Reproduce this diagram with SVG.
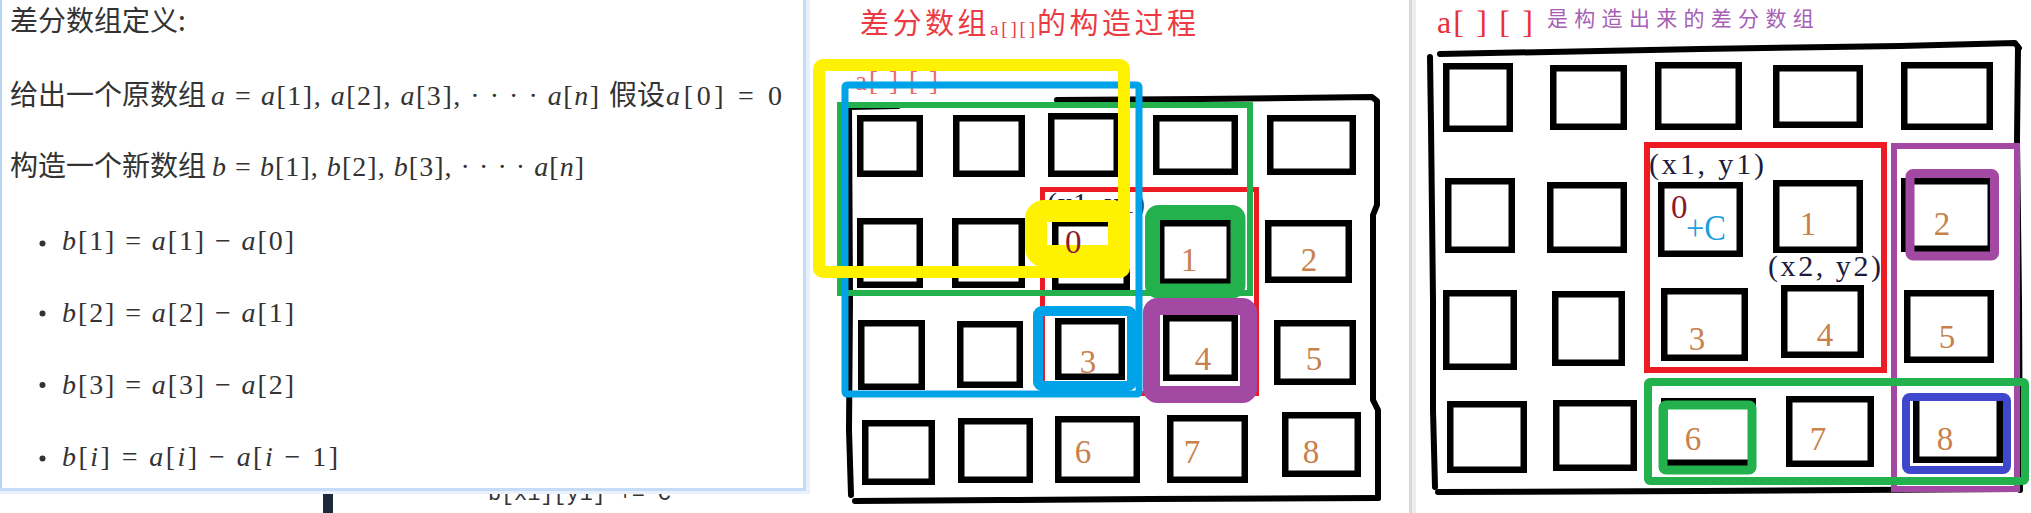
<svg xmlns="http://www.w3.org/2000/svg" width="2031" height="513" viewBox="0 0 2031 513">
<style>
.box{fill:none;stroke:#000;stroke-width:6.5}
.frame{fill:none;stroke:#000;stroke-width:6;stroke-linecap:round;stroke-linejoin:round}
.num{font-family:"Liberation Serif",serif;font-size:33px;fill:#c8814c;text-anchor:middle}
.cjk{font-family:"Noto Sans CJK SC",sans-serif;font-size:28px;fill:#333}
.math{font-family:"Liberation Serif",serif;font-size:28px;fill:#333}
.it{font-style:italic}
.coord{font-family:"Liberation Serif",serif;font-size:30px;fill:#1c1c3c}
.zero{font-family:"Liberation Serif",serif;font-size:33px;fill:#8b1a2b}
</style>
<rect width="2031" height="513" fill="#fff"/>

<!-- left panel -->
<g id="left-panel">
<rect x="323" y="486" width="10" height="27" fill="#1e2a3a"/>
<text x="488" y="500" font-family="Liberation Mono,monospace" font-size="22" fill="#333" textLength="183" lengthAdjust="spacing">b[x1][y1] += C</text>
<rect x="0" y="0" width="810" height="494" fill="#e8f1fc"/>
<rect x="0" y="0" width="806" height="491" fill="#c6dcf6"/>
<rect x="0" y="0" width="803" height="488" fill="#fff"/>
<rect x="0" y="0" width="2" height="488" fill="#b8d4f3"/>
<text class="cjk" x="10" y="31">差分数组定义:</text>
<text class="cjk" x="10" y="105">给出一个原数组</text>
<text class="math" x="211" y="105" textLength="388" lengthAdjust="spacing"><tspan class="it">a</tspan> = <tspan class="it">a</tspan>[1], <tspan class="it">a</tspan>[2], <tspan class="it">a</tspan>[3], · · · · <tspan class="it">a</tspan>[<tspan class="it">n</tspan>]</text>
<text class="cjk" x="609" y="105">假设</text>
<text class="math" x="666" y="105" textLength="116" lengthAdjust="spacing"><tspan class="it">a</tspan>[0] = 0</text>
<text class="cjk" x="10" y="176">构造一个新数组</text>
<text class="math" x="212" y="176" textLength="372" lengthAdjust="spacing"><tspan class="it">b</tspan> = <tspan class="it">b</tspan>[1], <tspan class="it">b</tspan>[2], <tspan class="it">b</tspan>[3], · · · · <tspan class="it">a</tspan>[<tspan class="it">n</tspan>]</text>
<circle cx="42.5" cy="243.5" r="3" fill="#333"/>
<text class="math" x="62" y="250" textLength="232" lengthAdjust="spacing"><tspan class="it">b</tspan>[1] = <tspan class="it">a</tspan>[1] − <tspan class="it">a</tspan>[0]</text>
<circle cx="42.5" cy="313.5" r="3" fill="#333"/>
<text class="math" x="62" y="322" textLength="232" lengthAdjust="spacing"><tspan class="it">b</tspan>[2] = <tspan class="it">a</tspan>[2] − <tspan class="it">a</tspan>[1]</text>
<circle cx="42.5" cy="385" r="3" fill="#333"/>
<text class="math" x="62" y="394" textLength="232" lengthAdjust="spacing"><tspan class="it">b</tspan>[3] = <tspan class="it">a</tspan>[3] − <tspan class="it">a</tspan>[2]</text>
<circle cx="42.5" cy="458.5" r="3" fill="#333"/>
<text class="math" x="62" y="466" textLength="276" lengthAdjust="spacing"><tspan class="it">b</tspan>[<tspan class="it">i</tspan>] = <tspan class="it">a</tspan>[<tspan class="it">i</tspan>] − <tspan class="it">a</tspan>[<tspan class="it">i</tspan> − 1]</text>
</g>

<!-- divider between middle and right -->
<rect x="1409" y="0" width="3" height="513" fill="#d8d8d8"/>
<rect x="1412" y="0" width="4" height="513" fill="#eeeeee"/>

<!-- middle panel -->
<g id="middle-panel">
<text x="860" y="34" font-family="Noto Sans CJK SC,sans-serif" font-size="29" fill="#ec3a44" letter-spacing="3.5">差分数组</text>
<text x="990" y="35" font-family="Liberation Serif,serif" font-size="19" fill="#ec3a44" textLength="45" lengthAdjust="spacing">a[][]</text>
<text x="1037" y="34" font-family="Noto Sans CJK SC,sans-serif" font-size="29" fill="#ec3a44" letter-spacing="3.5">的构造过程</text>
<g id="mid-frame">
<path class="frame" d="M1057 100 L1200 99 L1372 97 L1377 101 L1377 205 L1373 215 L1373 400 L1378 410 L1378 498"/>
<path class="frame" d="M855 501 L1000 500 L1150 499 L1378 498"/>
<path class="frame" d="M849 107 L898 106 M849 107 L850 300 L849 430 L851 495"/>
</g>
<g id="m-r1c1"><rect class="box" x="860.25" y="118.25" width="59.5" height="55.5"/></g>
<g id="m-r1c2"><rect class="box" x="956.25" y="118.25" width="65.5" height="55.5"/></g>
<g id="m-r1c3"><rect class="box" x="1051.25" y="116.25" width="65.5" height="57.5"/></g>
<g id="m-r1c4"><rect class="box" x="1156.25" y="118.25" width="78.5" height="53.5"/></g>
<g id="m-r1c5"><rect class="box" x="1270.25" y="118.25" width="82.5" height="53.5"/></g>
<g id="m-r2c1"><rect class="box" x="860.25" y="221.25" width="59.5" height="63.5"/></g>
<g id="m-r2c2"><rect class="box" x="955.25" y="221.25" width="66.5" height="63.5"/></g>
<g id="m-r2c3"><rect class="box" x="1055.25" y="223.25" width="71.5" height="63.5"/></g>
<g id="m-r2c4"><rect class="box" x="1161.25" y="223.25" width="68.5" height="58.5"/><text class="num" x="1189" y="271">1</text></g>
<g id="m-r2c5"><rect class="box" x="1268.25" y="223.25" width="80.5" height="56.5"/><text class="num" x="1309" y="271">2</text></g>
<g id="m-r3c1"><rect class="box" x="861.25" y="323.25" width="60.5" height="63.5"/></g>
<g id="m-r3c2"><rect class="box" x="960.25" y="324.25" width="59.5" height="60.5"/></g>
<g id="m-r3c3"><rect class="box" x="1058.25" y="321.25" width="63.5" height="55.5"/><text class="num" x="1088" y="373">3</text></g>
<g id="m-r3c4"><rect class="box" x="1166.25" y="318.25" width="68.5" height="59.5"/><text class="num" x="1203" y="370">4</text></g>
<g id="m-r3c5"><rect class="box" x="1277.25" y="323.25" width="75.5" height="58.5"/><text class="num" x="1314" y="370">5</text></g>
<g id="m-r4c1"><rect class="box" x="865.25" y="423.25" width="66.5" height="58.5"/></g>
<g id="m-r4c2"><rect class="box" x="961.25" y="421.25" width="68.5" height="58.5"/></g>
<g id="m-r4c3"><rect class="box" x="1058.25" y="419.25" width="78.5" height="60.5"/><text class="num" x="1083" y="463">6</text></g>
<g id="m-r4c4"><rect class="box" x="1170.25" y="418.25" width="74.5" height="61.5"/><text class="num" x="1192" y="463">7</text></g>
<g id="m-r4c5"><rect class="box" x="1285.25" y="415.25" width="72.5" height="58.5"/><text class="num" x="1311" y="463">8</text></g>
<g id="m-red"><rect x="1042.5" y="189.5" width="214" height="204" fill="none" stroke="#ed1c24" stroke-width="5"/></g>
<text x="855" y="90" font-family="Liberation Serif,serif" font-size="27" fill="#e86a6a" textLength="83" lengthAdjust="spacing">a[ ] [ ]</text>
<text class="coord" x="1047" y="213" font-size="26" textLength="98" lengthAdjust="spacing">(x1, y1)</text>
<g id="m-green-big"><rect x="840" y="105" width="410" height="188" fill="none" stroke="#22b14c" stroke-width="6"/></g>
<g id="m-blue-big"><rect x="845" y="85" width="294" height="309" fill="none" stroke="#00a2e8" stroke-width="7" rx="2"/></g>
<g id="m-green-1"><rect x="1152.5" y="212.5" width="85.5" height="78.5" fill="none" stroke="#22b14c" stroke-width="15" rx="6"/></g>
<g id="m-purple-4"><rect x="1151.5" y="306.5" width="97" height="88" fill="none" stroke="#a349a4" stroke-width="17" rx="6"/></g>
<g id="m-blue-3"><rect x="1038" y="311" width="94" height="75" fill="none" stroke="#00a2e8" stroke-width="10" rx="4"/></g>
<g id="m-yellow-big"><rect x="819" y="65" width="305" height="207" fill="none" stroke="#fff200" stroke-width="12" rx="4"/></g>
<g id="m-yellow-0"><rect x="1036" y="211" width="83" height="45" fill="none" stroke="#fff200" stroke-width="22" rx="8"/><text class="zero" x="1065" y="253">0</text></g>
</g>

<!-- right panel -->
<g id="right-panel">
<text x="1437" y="33" font-family="Liberation Serif,serif" font-size="32" fill="#e8303a" textLength="96" lengthAdjust="spacing">a[ ] [ ]</text>
<text x="1547" y="26" font-family="Noto Sans CJK SC,sans-serif" font-size="21" fill="#a65fb5" letter-spacing="6.3">是构造出来的差分数组</text>
<g id="r-frame">
<path class="frame" d="M1440 54 L1700 49 L1900 46 L2015 43 L2019 48"/>
<path class="frame" d="M2018 48 L2017 140 L2019 300 L2020 490"/>
<path class="frame" d="M1438 492 L1700 491 L2020 489"/>
<path class="frame" d="M1430 57 L1431 125 L1433 300 L1433 410 L1435 487"/>
</g>
<g id="r-r1c1"><rect class="box" x="1446.25" y="66.25" width="63.5" height="62.5"/></g>
<g id="r-r1c2"><rect class="box" x="1553.25" y="68.25" width="70.5" height="58.5"/></g>
<g id="r-r1c3"><rect class="box" x="1658.25" y="65.25" width="80.5" height="61.5"/></g>
<g id="r-r1c4"><rect class="box" x="1776.25" y="68.25" width="83.5" height="56.5"/></g>
<g id="r-r1c5"><rect class="box" x="1904.25" y="65.25" width="85.5" height="61.5"/></g>
<g id="r-r2c1"><rect class="box" x="1448.25" y="181.25" width="63.5" height="68.5"/></g>
<g id="r-r2c2"><rect class="box" x="1550.25" y="185.25" width="73.5" height="64.5"/></g>
<g id="r-r2c3"><rect class="box" x="1661.25" y="185.25" width="78.5" height="68.5"/><text class="zero" x="1671" y="218">0</text><text x="1686" y="240" font-family="Liberation Serif,serif" font-size="36" fill="#1ea0e0" textLength="40" lengthAdjust="spacingAndGlyphs">+C</text></g>
<g id="r-r2c4"><rect class="box" x="1776.25" y="183.25" width="83.5" height="66.5"/><text class="num" x="1808" y="235">1</text></g>
<g id="r-r2c5"><rect class="box" x="1904.25" y="181.25" width="86.5" height="67.5"/><text class="num" x="1942" y="235">2</text></g>
<g id="r-r3c1"><rect class="box" x="1446.25" y="293.25" width="67.5" height="73.5"/></g>
<g id="r-r3c2"><rect class="box" x="1555.25" y="294.25" width="66.5" height="68.5"/></g>
<g id="r-r3c3"><rect class="box" x="1664.25" y="291.25" width="80.5" height="66.5"/><text class="num" x="1697" y="350">3</text></g>
<g id="r-r3c4"><rect class="box" x="1784.25" y="288.25" width="76.5" height="66.5"/><text class="num" x="1825" y="346">4</text></g>
<g id="r-r3c5"><rect class="box" x="1907.25" y="293.25" width="83.5" height="66.5"/><text class="num" x="1947" y="348">5</text></g>
<g id="r-r4c1"><rect class="box" x="1450.25" y="404.25" width="73.5" height="65.5"/></g>
<g id="r-r4c2"><rect class="box" x="1556.25" y="403.25" width="77.5" height="64.5"/></g>
<g id="r-r4c3"><rect class="box" x="1664.25" y="401.25" width="88.5" height="61.5"/><text class="num" x="1693" y="450">6</text></g>
<g id="r-r4c4"><rect class="box" x="1789.25" y="399.25" width="81.5" height="64.5"/><text class="num" x="1818" y="450">7</text></g>
<g id="r-r4c5"><rect class="box" x="1916.25" y="396.25" width="83.5" height="63.5"/><text class="num" x="1945" y="450">8</text></g>
<text class="coord" x="1649" y="174" textLength="115" lengthAdjust="spacing">(x1, y1)</text>
<text class="coord" x="1768" y="276" textLength="113" lengthAdjust="spacing">(x2, y2)</text>
<g id="r-red"><rect x="1647" y="145" width="237" height="225" fill="none" stroke="#ed1c24" stroke-width="6"/></g>
<g id="r-purple"><rect x="1894" y="146" width="123" height="343" fill="none" stroke="#a349a4" stroke-width="6"/></g>
<g id="r-green"><rect x="1648" y="382" width="377" height="99" fill="none" stroke="#22b14c" stroke-width="8" rx="2"/></g>
<g id="r-green-6"><rect x="1663" y="405" width="89" height="65" fill="none" stroke="#22b14c" stroke-width="9" rx="3"/></g>
<g id="r-blue-8"><rect x="1906" y="397" width="101" height="73" fill="none" stroke="#3f48cc" stroke-width="8" rx="4"/></g>
<g id="r-purple-2"><rect x="1910" y="173.5" width="84.5" height="82.5" fill="none" stroke="#a349a4" stroke-width="9" rx="3"/></g>
</g>
<g id="connectors"/>
</svg>
